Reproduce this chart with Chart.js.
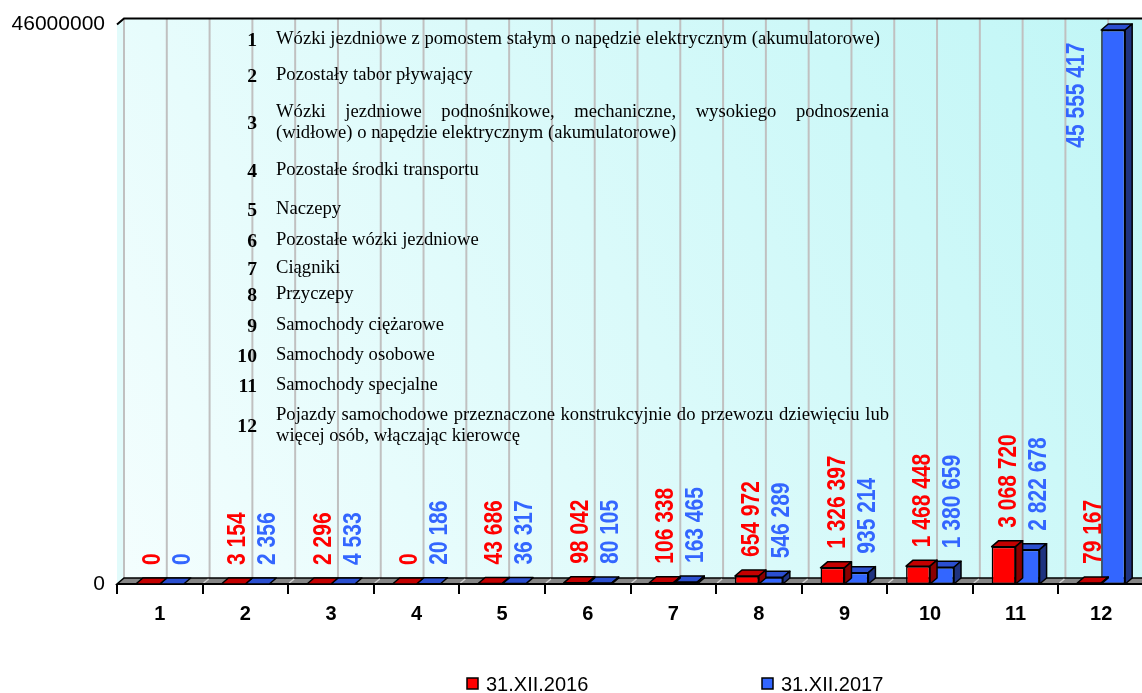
<!DOCTYPE html>
<html>
<head>
<meta charset="utf-8">
<script src="https://cdn.jsdelivr.net/npm/chart.js@4.4.1/dist/chart.umd.min.js"></script>
<style>
html, body { margin: 0; padding: 0; background: #fff; overflow: hidden; }
#wrap { width: 1142px; height: 693px; overflow: hidden; position: relative; }
</style>
</head>
<body>
<div id="wrap"><canvas id="myChart" width="1150" height="693"></canvas></div>
<script>
'use strict'

var categories = ['1', '2', '3', '4', '5', '6', '7', '8', '9', '10', '11', '12'];
var values2016 = [0, 3154, 2296, 0, 43686, 98042, 106338, 654972, 1326397, 1468448, 3068720, 79167];
var values2017 = [0, 2356, 4533, 20186, 36317, 80105, 163465, 546289, 935214, 1380659, 2822678, 45555417];
var seriesNames = ['31.XII.2016', '31.XII.2017'];
var yTicks = [0, 46000000];
var descriptions = [
    ['Wózki jezdniowe z pomostem stałym o napędzie elektrycznym (akumulatorowe)'],
    ['Pozostały tabor pływający'],
    ['Wózki jezdniowe podnośnikowe, mechaniczne, wysokiego podnoszenia', '(widłowe) o napędzie elektrycznym (akumulatorowe)'],
    ['Pozostałe środki transportu'],
    ['Naczepy'],
    ['Pozostałe wózki jezdniowe'],
    ['Ciągniki'],
    ['Przyczepy'],
    ['Samochody ciężarowe'],
    ['Samochody osobowe'],
    ['Samochody specjalne'],
    ['Pojazdy samochodowe przeznaczone konstrukcyjnie do przewozu dziewięciu lub', 'więcej osób, włączając kierowcę']
];

/* layout of the description list (first line centre of each item) */
var descY = [39, 75, 112, 170, 209, 240, 268, 294, 325, 355, 385, 415];
var DX = 7, DY = 6;   // 3d depth

var faces = [
    {front: '#ff0000', top: '#c40000', side: '#8a0000', label: '#ff0000', shift: 5},
    {front: '#3366ff', top: '#2b4fd0', side: '#1f3380', label: '#3366ff', shift: 11}
];

function spaced(v) {
    return String(v).replace(/\B(?=(\d{3})+(?!\d))/g, ' ');
}

function poly(ctx, pts, fill) {
    ctx.beginPath();
    ctx.moveTo(pts[0][0], pts[0][1]);
    for (var i = 1; i < pts.length; i++) ctx.lineTo(pts[i][0], pts[i][1]);
    ctx.closePath();
    ctx.fillStyle = fill;
    ctx.fill();
    ctx.stroke();
}

var scenePlugin = {
    id: 'scene',
    beforeDatasetsDraw: function(chart) {
        var ctx = chart.ctx, a = chart.chartArea, xs = chart.scales.x;
        ctx.save();
        /* back wall */
        var g = ctx.createLinearGradient(a.left, a.bottom, a.right, a.top);
        g.addColorStop(0, '#f4fefe');
        g.addColorStop(1, '#c0f6f6');
        ctx.fillStyle = g;
        ctx.fillRect(a.left + DX, a.top - DY, a.right - a.left + 20, a.bottom - a.top);
        /* left wall */
        ctx.fillStyle = '#e2fbfb';
        ctx.beginPath();
        ctx.moveTo(a.left, a.top);
        ctx.lineTo(a.left + DX, a.top - DY);
        ctx.lineTo(a.left + DX, a.bottom - DY);
        ctx.lineTo(a.left, a.bottom);
        ctx.closePath();
        ctx.fill();
        /* vertical grid lines on the back wall */
        ctx.strokeStyle = '#c0c0c0';
        ctx.lineWidth = 2;
        for (var k = 0; k <= categories.length * 2; k++) {
            var x = xs.getPixelForValue(k / 2 - 0.5) + DX;
            ctx.beginPath();
            ctx.moveTo(x, a.bottom - DY);
            ctx.lineTo(x, a.top - DY);
            ctx.stroke();
        }
        /* top border */
        ctx.strokeStyle = '#000';
        ctx.lineWidth = 2;
        ctx.beginPath();
        ctx.moveTo(a.left, a.top);
        ctx.lineTo(a.left + DX, a.top - DY);
        ctx.lineTo(a.right + DX + 20, a.top - DY);
        ctx.stroke();
        /* floor */
        ctx.lineWidth = 1.5;
        poly(ctx, [[a.left, a.bottom], [a.right, a.bottom], [a.right + DX, a.bottom - DY], [a.left + DX, a.bottom - DY]], '#858585');
        ctx.strokeStyle = '#d0d0d0';
        ctx.lineWidth = 1.5;
        for (var m = 1; m < categories.length * 2; m++) {
            var fx = xs.getPixelForValue(m / 2 - 0.5);
            ctx.beginPath();
            ctx.moveTo(fx + 1, a.bottom - 1);
            ctx.lineTo(fx + DX - 1, a.bottom - DY + 1);
            ctx.stroke();
        }
        /* axis line and ticks */
        ctx.strokeStyle = '#000';
        ctx.lineWidth = 2;
        ctx.beginPath();
        ctx.moveTo(a.left, a.bottom);
        ctx.lineTo(a.right, a.bottom);
        for (var t = 0; t <= categories.length; t++) {
            var tx = Math.round(xs.getPixelForValue(t - 0.5));
            ctx.moveTo(tx, a.bottom);
            ctx.lineTo(tx, a.bottom + 10);
        }
        ctx.stroke();
        ctx.restore();
    },
    afterDatasetDraw: function(chart, args) {
        var f = faces[args.index], ctx = chart.ctx;
        ctx.save();
        ctx.lineWidth = 1.5;
        ctx.strokeStyle = '#000';
        ctx.lineJoin = 'round';
        args.meta.data.forEach(function(bar) {
            var p = bar.getProps(['x', 'y', 'base', 'width'], true);
            var x0 = p.x - p.width / 2, x1 = p.x + p.width / 2, y = p.y, b = p.base;
            poly(ctx, [[x0, y], [x1, y], [x1 + DX, y - DY], [x0 + DX, y - DY]], f.top);
            if (b - y > 0.5) {
                poly(ctx, [[x1, y], [x1 + DX, y - DY], [x1 + DX, b - DY], [x1, b]], f.side);
            }
        });
        ctx.restore();
    },
    afterDraw: function(chart) {
        var ctx = chart.ctx, a = chart.chartArea;
        ctx.save();
        /* value labels, rotated */
        ctx.font = 'bold 21px Arial, "Liberation Sans", sans-serif';
        ctx.textAlign = 'left';
        ctx.textBaseline = 'middle';
        chart.data.datasets.forEach(function(ds, i) {
            var meta = chart.getDatasetMeta(i);
            ctx.fillStyle = faces[i].label;
            meta.data.forEach(function(bar, j) {
                var p = bar.getProps(['x', 'y', 'width'], true);
                var txt = spaced(ds.data[j]);
                var w = ctx.measureText(txt).width;
                var bottom = p.y - DY - 13;
                var cx = p.x + faces[i].shift;
                if (bottom - w < a.top) {
                    bottom = a.top + 18 + w;
                    cx = p.x - p.width * 1.5;
                }
                ctx.save();
                ctx.translate(cx, bottom);
                ctx.rotate(-Math.PI / 2);
                ctx.scale(1, 1.22);
                ctx.fillText(txt, 0, 0);
                ctx.restore();
            });
        });

        /* description list */
        var serif = '"Times New Roman", "Liberation Serif", serif';
        ctx.font = '18px ' + serif;
        var stretch = 604 / ctx.measureText(descriptions[0][0]).width;
        var textX = 276, textRight = 889, numRight = 257, lineGap = 21;
        ctx.fillStyle = '#000';
        ctx.textBaseline = 'middle';
        descriptions.forEach(function(lines, i) {
            var y0 = descY[i];
            var numY = y0 + (lines.length - 1) * lineGap / 2 + 2;
            ctx.font = 'bold 19px ' + serif;
            ctx.textAlign = 'right';
            ctx.save();
            ctx.translate(numRight, numY);
            ctx.scale(stretch, 1);
            ctx.fillText(String(i + 1), 0, 0);
            ctx.restore();
            ctx.font = '18px ' + serif;
            ctx.textAlign = 'left';
            lines.forEach(function(line, l) {
                var y = y0 + l * lineGap;
                ctx.save();
                ctx.translate(textX, y);
                ctx.scale(stretch, 1);
                if (lines.length > 1 && l === 0) {
                    var words = line.split(' ');
                    var full = (textRight - textX) / stretch;
                    var wsum = 0;
                    words.forEach(function(wd) { wsum += ctx.measureText(wd).width; });
                    var gap = (full - wsum) / (words.length - 1);
                    var cx = 0;
                    words.forEach(function(wd) {
                        ctx.fillText(wd, cx, 0);
                        cx += ctx.measureText(wd).width + gap;
                    });
                } else {
                    ctx.fillText(line, 0, 0);
                }
                ctx.restore();
            });
        });

        /* legend */
        var legendX = [467, 762];
        ctx.font = '20px Arial, "Liberation Sans", sans-serif';
        ctx.textAlign = 'left';
        ctx.textBaseline = 'middle';
        ctx.lineWidth = 1.5;
        ctx.strokeStyle = '#000';
        chart.data.datasets.forEach(function(ds, i) {
            ctx.fillStyle = faces[i].front;
            ctx.fillRect(legendX[i], 678, 11, 11);
            ctx.strokeRect(legendX[i], 678, 11, 11);
            ctx.fillStyle = '#000';
            ctx.fillText(ds.label, legendX[i] + 19, 685);
        });
        ctx.restore();
    }
};

var ctx = document.getElementById('myChart').getContext('2d');

var graphData = {
    type: 'bar',
    data: {
        labels: categories,
        datasets: [{
            label: seriesNames[0],
            data: values2016,
            backgroundColor: faces[0].front,
            borderColor: '#000',
            borderWidth: 1.5,
            borderSkipped: false,
            categoryPercentage: 0.56,
            barPercentage: 1.0
        }, {
            label: seriesNames[1],
            data: values2017,
            backgroundColor: faces[1].front,
            borderColor: '#000',
            borderWidth: 1.5,
            borderSkipped: false,
            categoryPercentage: 0.56,
            barPercentage: 1.0
        }]
    },
    options: {
        responsive: false,
        animation: false,
        layout: {padding: {left: 0, right: 6, top: 22, bottom: 49}},
        plugins: {legend: {display: false}, tooltip: {enabled: false}},
        scales: {
            x: {
                grid: {display: false, drawTicks: false},
                border: {display: false},
                ticks: {font: {family: 'Arial', size: 20, weight: 'bold'}, color: '#000', padding: 18}
            },
            y: {
                min: 0,
                max: 46000000,
                afterBuildTicks: function(s) { s.ticks = yTicks.map(function(v) { return {value: v}; }); },
                afterFit: function(s) { s.width = 117; },
                grid: {display: false, drawTicks: false},
                border: {display: false},
                ticks: {font: {family: 'Arial', size: 21}, color: '#000', padding: 12,
                        callback: function(v) { return String(v); }}
            }
        }
    },
    plugins: [scenePlugin]
};

var myChart = new Chart(ctx, graphData);
</script>
</body>
</html>
